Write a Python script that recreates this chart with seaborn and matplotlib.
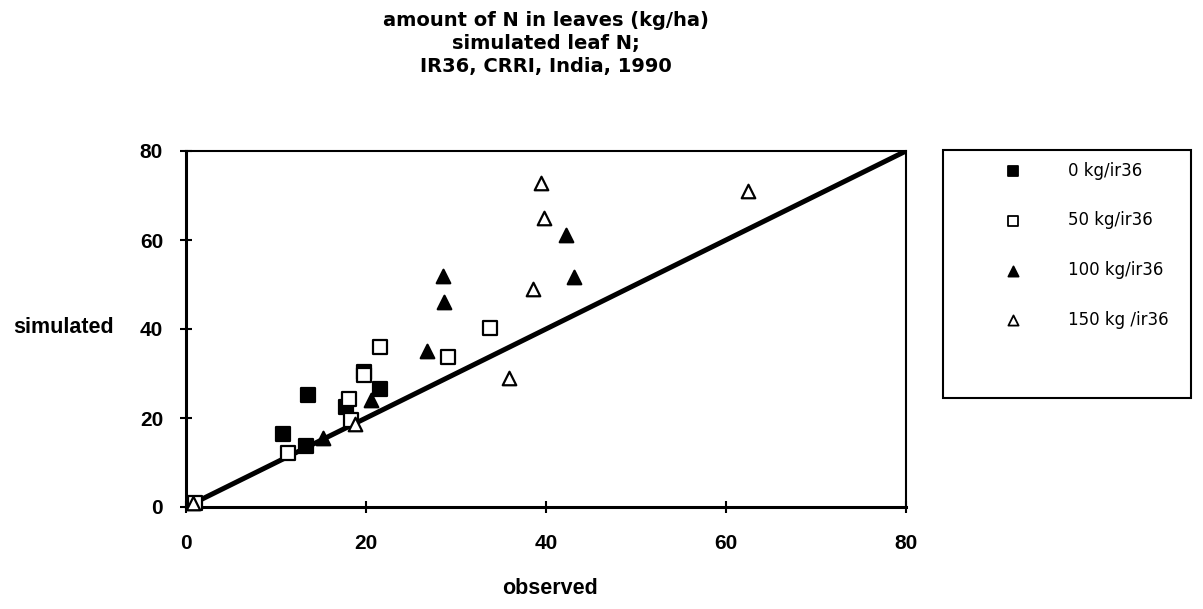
import matplotlib
matplotlib.use("Agg")
import matplotlib.pyplot as plt
import seaborn as sns
import pandas as pd
from matplotlib.patches import Rectangle

# ---- data ----
title_lines = ["amount of N in leaves (kg/ha)", "simulated leaf N;", "IR36, CRRI, India, 1990"]
series_labels = ["0 kg/ir36", "50 kg/ir36", "100 kg/ir36", "150 kg /ir36"]

s0_x = [10.8, 13.5, 13.3, 17.8, 19.8, 21.5]
s0_y = [16.3, 25.2, 13.7, 22.4, 30.4, 26.5]
s50_x = [1.0, 11.3, 18.1, 18.3, 19.8, 21.6, 29.1, 33.8]
s50_y = [0.8, 12.1, 24.3, 19.5, 29.7, 36.0, 33.6, 40.3]
s100_x = [15.2, 20.6, 26.8, 28.5, 28.7, 42.2, 43.1]
s100_y = [15.4, 24.0, 35.1, 51.8, 46.1, 61.1, 51.6]
s150_x = [0.8, 18.8, 35.9, 38.5, 39.4, 39.8, 62.4]
s150_y = [0.8, 18.6, 29.1, 49.1, 72.7, 64.9, 71.1]

line_x = [0, 80]
line_y = [0, 80]
ticks = [0, 20, 40, 60, 80]

sns.set_theme(style="ticks")
plt.rcParams['font.family'] = ['Liberation Sans', 'DejaVu Sans']
plt.rcParams.update({"text.color": "black", "axes.labelcolor": "black",
                     "xtick.color": "black", "ytick.color": "black"})

fig = plt.figure(figsize=(12.03, 6.09), dpi=100)
ax = fig.add_axes([186/1203, 1-507/609, 720/1203, 356/609])

sns.lineplot(x=line_x, y=line_y, ax=ax, color="black", linewidth=3.6, legend=False)

styles = [
    (s0_x, s0_y, "s", "black"),
    (s50_x, s50_y, "s", "white"),
    (s100_x, s100_y, "^", "black"),
    (s150_x, s150_y, "^", "white"),
]
for (xs, ys, m, fc), lab in zip(styles, series_labels):
    df = pd.DataFrame({"observed": xs, "simulated": ys})
    sns.scatterplot(data=df, x="observed", y="simulated", ax=ax, marker=m,
                    color=fc, edgecolor="black", linewidth=1.6, s=95,
                    label=lab, clip_on=False, zorder=3)

ax.set_xlim(0, 80)
ax.set_ylim(0, 80)
ax.set_xticks(ticks)
ax.set_yticks(ticks)
ax.tick_params(direction="inout", length=9, width=1.5, colors="black",
               labelsize=15, bottom=True, left=True)
ax.tick_params(axis="x", pad=15)
ax.tick_params(axis="y", pad=12)
for lbl in ax.get_xticklabels() + ax.get_yticklabels():
    lbl.set_fontweight("bold")
for side, sp in ax.spines.items():
    sp.set_visible(True)
    sp.set_color("black")
    sp.set_linewidth(2.2 if side in ("left", "bottom") else 1.5)

ax.set_xlabel("observed", fontsize=15.5, fontweight="bold")
ax.xaxis.set_label_coords(0.505, -0.2)
ax.set_ylabel("simulated", fontsize=15.5, fontweight="bold", rotation=0,
              ha="right", va="center")
ax.yaxis.set_label_coords(-0.1, 0.505)

fig.text(546/1203, 1-11/609, "\n".join(title_lines), ha="center", va="top",
         fontsize=14, fontweight="bold", linespacing=1.28,
         family=["DejaVu Sans"])

# legend box
fig.patches.append(Rectangle((943/1203, 1-398/609), 248/1203, 248/609,
                             transform=fig.transFigure, fill=False,
                             edgecolor="black", linewidth=1.5))
handles, labels = ax.get_legend_handles_labels()
leg = ax.legend(handles, labels, loc="upper left",
                bbox_to_anchor=(985/1203, 1-150/609),
                bbox_transform=fig.transFigure, frameon=False,
                prop={"family": "DejaVu Sans", "size": 12},
                labelspacing=1.9, handletextpad=2.3,
                markerscale=0.75, borderpad=0.2)
for h in leg.legend_handles:
    h.set_linewidth(1.3)

fig.savefig("out.png", dpi=100)
